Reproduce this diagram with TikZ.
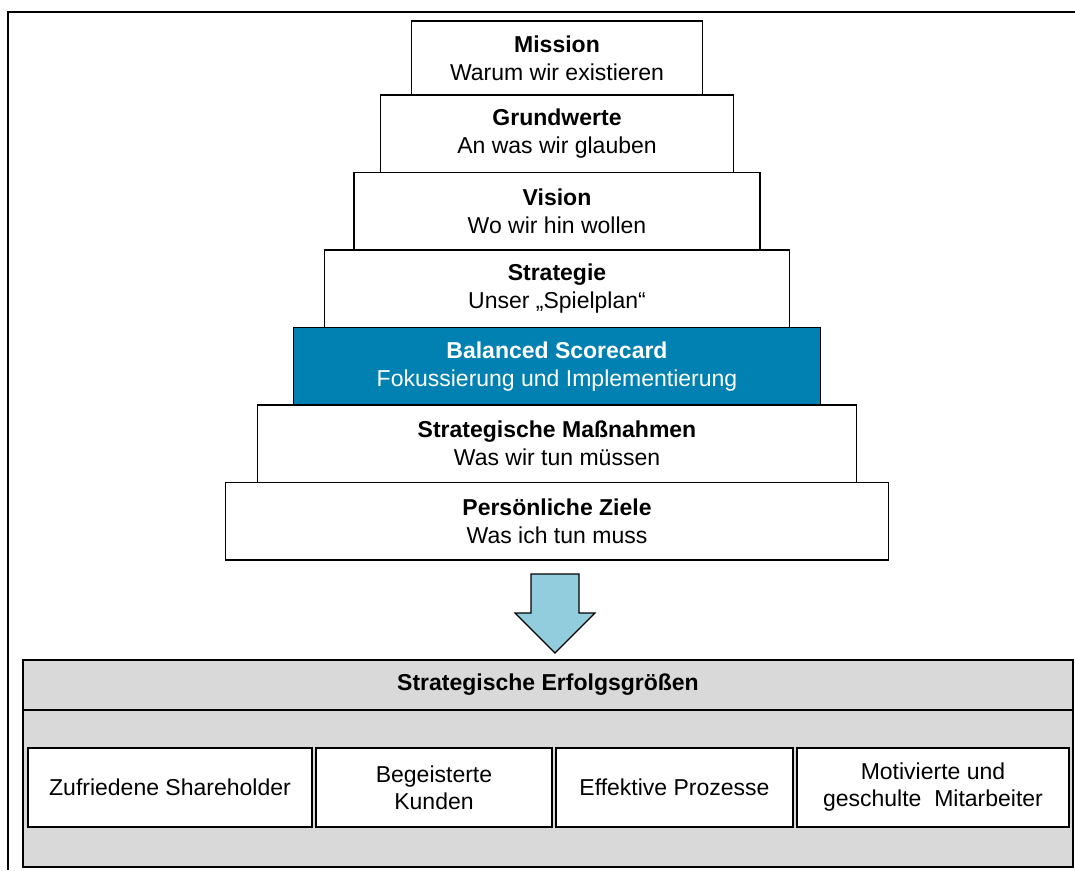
\documentclass[tikz,border=0pt]{standalone}
\usepackage{fontspec}
\setmainfont{Liberation Sans}
\usepackage{tikz}
\usetikzlibrary{positioning}
\definecolor{bscblue}{RGB}{0,129,178}
\definecolor{arrowblue}{RGB}{146,205,221}
\definecolor{panelgray}{RGB}{217,217,217}

\begin{document}
\begin{tikzpicture}[x=1pt,y=-1pt,
	stepbox/.style={draw, line width=1.8pt, fill=white, align=center, outer sep=0pt,
		minimum height=77.5pt, inner sep=0pt, font=\fontsize{23}{28}\selectfont},
	panelbox/.style={draw, line width=1.8pt, fill=panelgray, minimum width=1050pt,
		outer sep=0pt, inner sep=0pt, font=\fontsize{23}{28}\selectfont},
	goalbox/.style={draw, line width=1.8pt, fill=white, align=center, outer sep=0pt,
		minimum height=79pt, inner sep=0pt, font=\fontsize{23}{27}\selectfont},
	bigarrow/.style={draw, line width=1.2pt, fill=arrowblue, line join=miter}
	]
	\useasboundingbox (0,0) rectangle (1075,870);
	
	% Frame
	\draw[line width=2pt] (8,870) -- (8,12) -- (1075,12);
	
	% Pyramid
	\node[stepbox, minimum width=291pt, minimum height=74pt] (mission) at (557,58)
		{\textbf{Mission}\\Warum wir existieren};
	\node[stepbox, minimum width=353pt, below=0pt of mission] (werte)
		{\textbf{Grundwerte}\\An was wir glauben};
	\node[stepbox, minimum width=406pt, below=0pt of werte] (vision)
		{\textbf{Vision}\\Wo wir hin wollen};
	\node[stepbox, minimum width=465pt, below=0pt of vision] (strategie)
		{\textbf{Strategie}\\Unser „Spielplan“};
	\node[stepbox, minimum width=527pt, fill=bscblue, text=white, below=0pt of strategie] (bsc)
		{\textbf{Balanced Scorecard}\\Fokussierung und Implementierung};
	\node[stepbox, minimum width=599pt, below=0pt of bsc] (massnahmen)
		{\textbf{Strategische Maßnahmen}\\Was wir tun müssen};
	\node[stepbox, minimum width=663pt, below=0pt of massnahmen] (ziele)
		{\textbf{Persönliche Ziele}\\Was ich tun muss};
	
	% Arrow
	\coordinate (arrowtop) at (555,574);
	\draw[bigarrow] (arrowtop) ++(-24,0) -- ++(48,0) -- ++(0,39) -- ++(16,0)
		-- ++(-40,40) -- ++(-40,-40) -- ++(16,0) -- cycle;
	
	% Erfolgsgroessen
	\node[panelbox, minimum height=50pt] (head) at (548,685)
		{\textbf{Strategische Erfolgsgrößen}};
	\node[panelbox, minimum height=157pt, below=0pt of head] (body) {};
	
	\node[goalbox, minimum width=284pt] (share) at (170,787.5) {Zufriedene Shareholder};
	\node[goalbox, minimum width=236pt, right=4pt of share] (kunden) {Begeisterte\\Kunden};
	\node[goalbox, minimum width=237pt, right=4pt of kunden] (prozesse) {Effektive Prozesse};
	\node[goalbox, minimum width=272pt, right=4pt of prozesse] (mitarbeiter)
		{Motivierte und\\geschulte\ \ Mitarbeiter};
	
\end{tikzpicture}
\end{document}
